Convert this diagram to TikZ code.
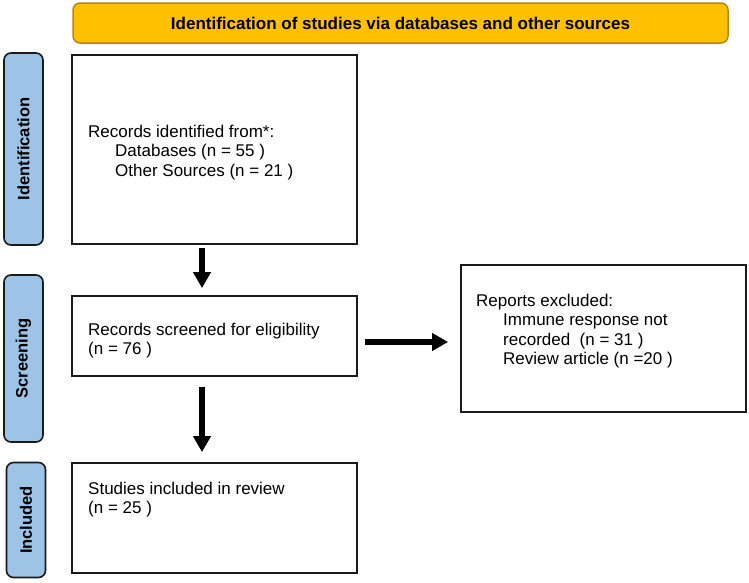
\documentclass[tikz,border=0pt]{standalone}
\usepackage{fontspec}
\setmainfont{Liberation Sans}
\usetikzlibrary{arrows.meta}
\definecolor{bannerfill}{HTML}{FFC000}
\definecolor{bannerdraw}{HTML}{B8860B}
\definecolor{labelfill}{HTML}{9DC3E6}
\definecolor{boxdraw}{HTML}{1A1A1A}
\begin{document}
\begin{tikzpicture}[x=1pt,y=-1pt,
  box/.style={draw=boxdraw,line width=1.8pt,minimum width=285pt,inner sep=0pt},
  stage/.style={draw=boxdraw,fill=labelfill,line width=1.6pt,rounded corners=7pt,
    rotate=90,minimum height=39pt,inner sep=0pt,font=\fontsize{16.5}{19}\selectfont\bfseries},
  btext/.style={anchor=north west,inner sep=0pt,align=left,font=\fontsize{17}{19.5}\selectfont},
  flow/.style={line width=5.5pt,-{Triangle[length=16pt,width=17pt]}},
]
\useasboundingbox (0,0) rectangle (749,582);
\node[draw=bannerdraw,fill=bannerfill,line width=1.5pt,rounded corners=7pt,
  minimum width=655pt,minimum height=40pt,inner sep=0pt,
  font=\fontsize{17}{20}\selectfont\bfseries] (banner) at (400.5,23)
  {Identification of studies via databases and other sources};

\node[stage,minimum width=192pt] (sid) at (23.5,149) {Identification};
\node[stage,minimum width=167pt] (ssc) at (23.5,358.5) {Screening};
\node[stage,minimum width=115pt] (sin) at (26,520) {Included};

\node[box,minimum height=189pt] (box1) at (214.5,149.5) {};
\node[box,minimum height=80pt] (box2) at (214.5,336) {};
\node[box,minimum height=147pt] (box3) at (603.5,338.5) {};
\node[box,minimum height=110pt] (box4) at (214.5,518) {};

\node[btext] (t1) at (88,124.6) {Records identified from*:\\\hspace*{27pt}Databases (n = 55 )\\\hspace*{27pt}Other Sources (n = 21 )};
\node[btext] (t2) at (88,322.6) {Records screened for eligibility\\(n = 76 )};
\node[btext] (t3) at (476,293.6) {Reports excluded:\\\hspace*{27pt}Immune response not\\\hspace*{27pt}recorded\ \ (n = 31 )\\\hspace*{27pt}Review article (n =20 )};
\node[btext] (t4) at (88,481.6) {Studies included in review\\(n = 25 )};

\coordinate (a2s) at ([xshift=7pt,yshift=-6pt]box2.east);
\coordinate (a2e) at ([xshift=-12pt]box3.west |- a2s);
\draw[flow] ([xshift=-12.5pt,yshift=-3pt]box1.south) -- ([xshift=-12.5pt,yshift=7pt]box2.north);
\draw[flow] (a2s) -- (a2e);
\draw[flow] ([xshift=-12.5pt,yshift=-10pt]box2.south) -- ([xshift=-12.5pt,yshift=10pt]box4.north);
\end{tikzpicture}
\end{document}
